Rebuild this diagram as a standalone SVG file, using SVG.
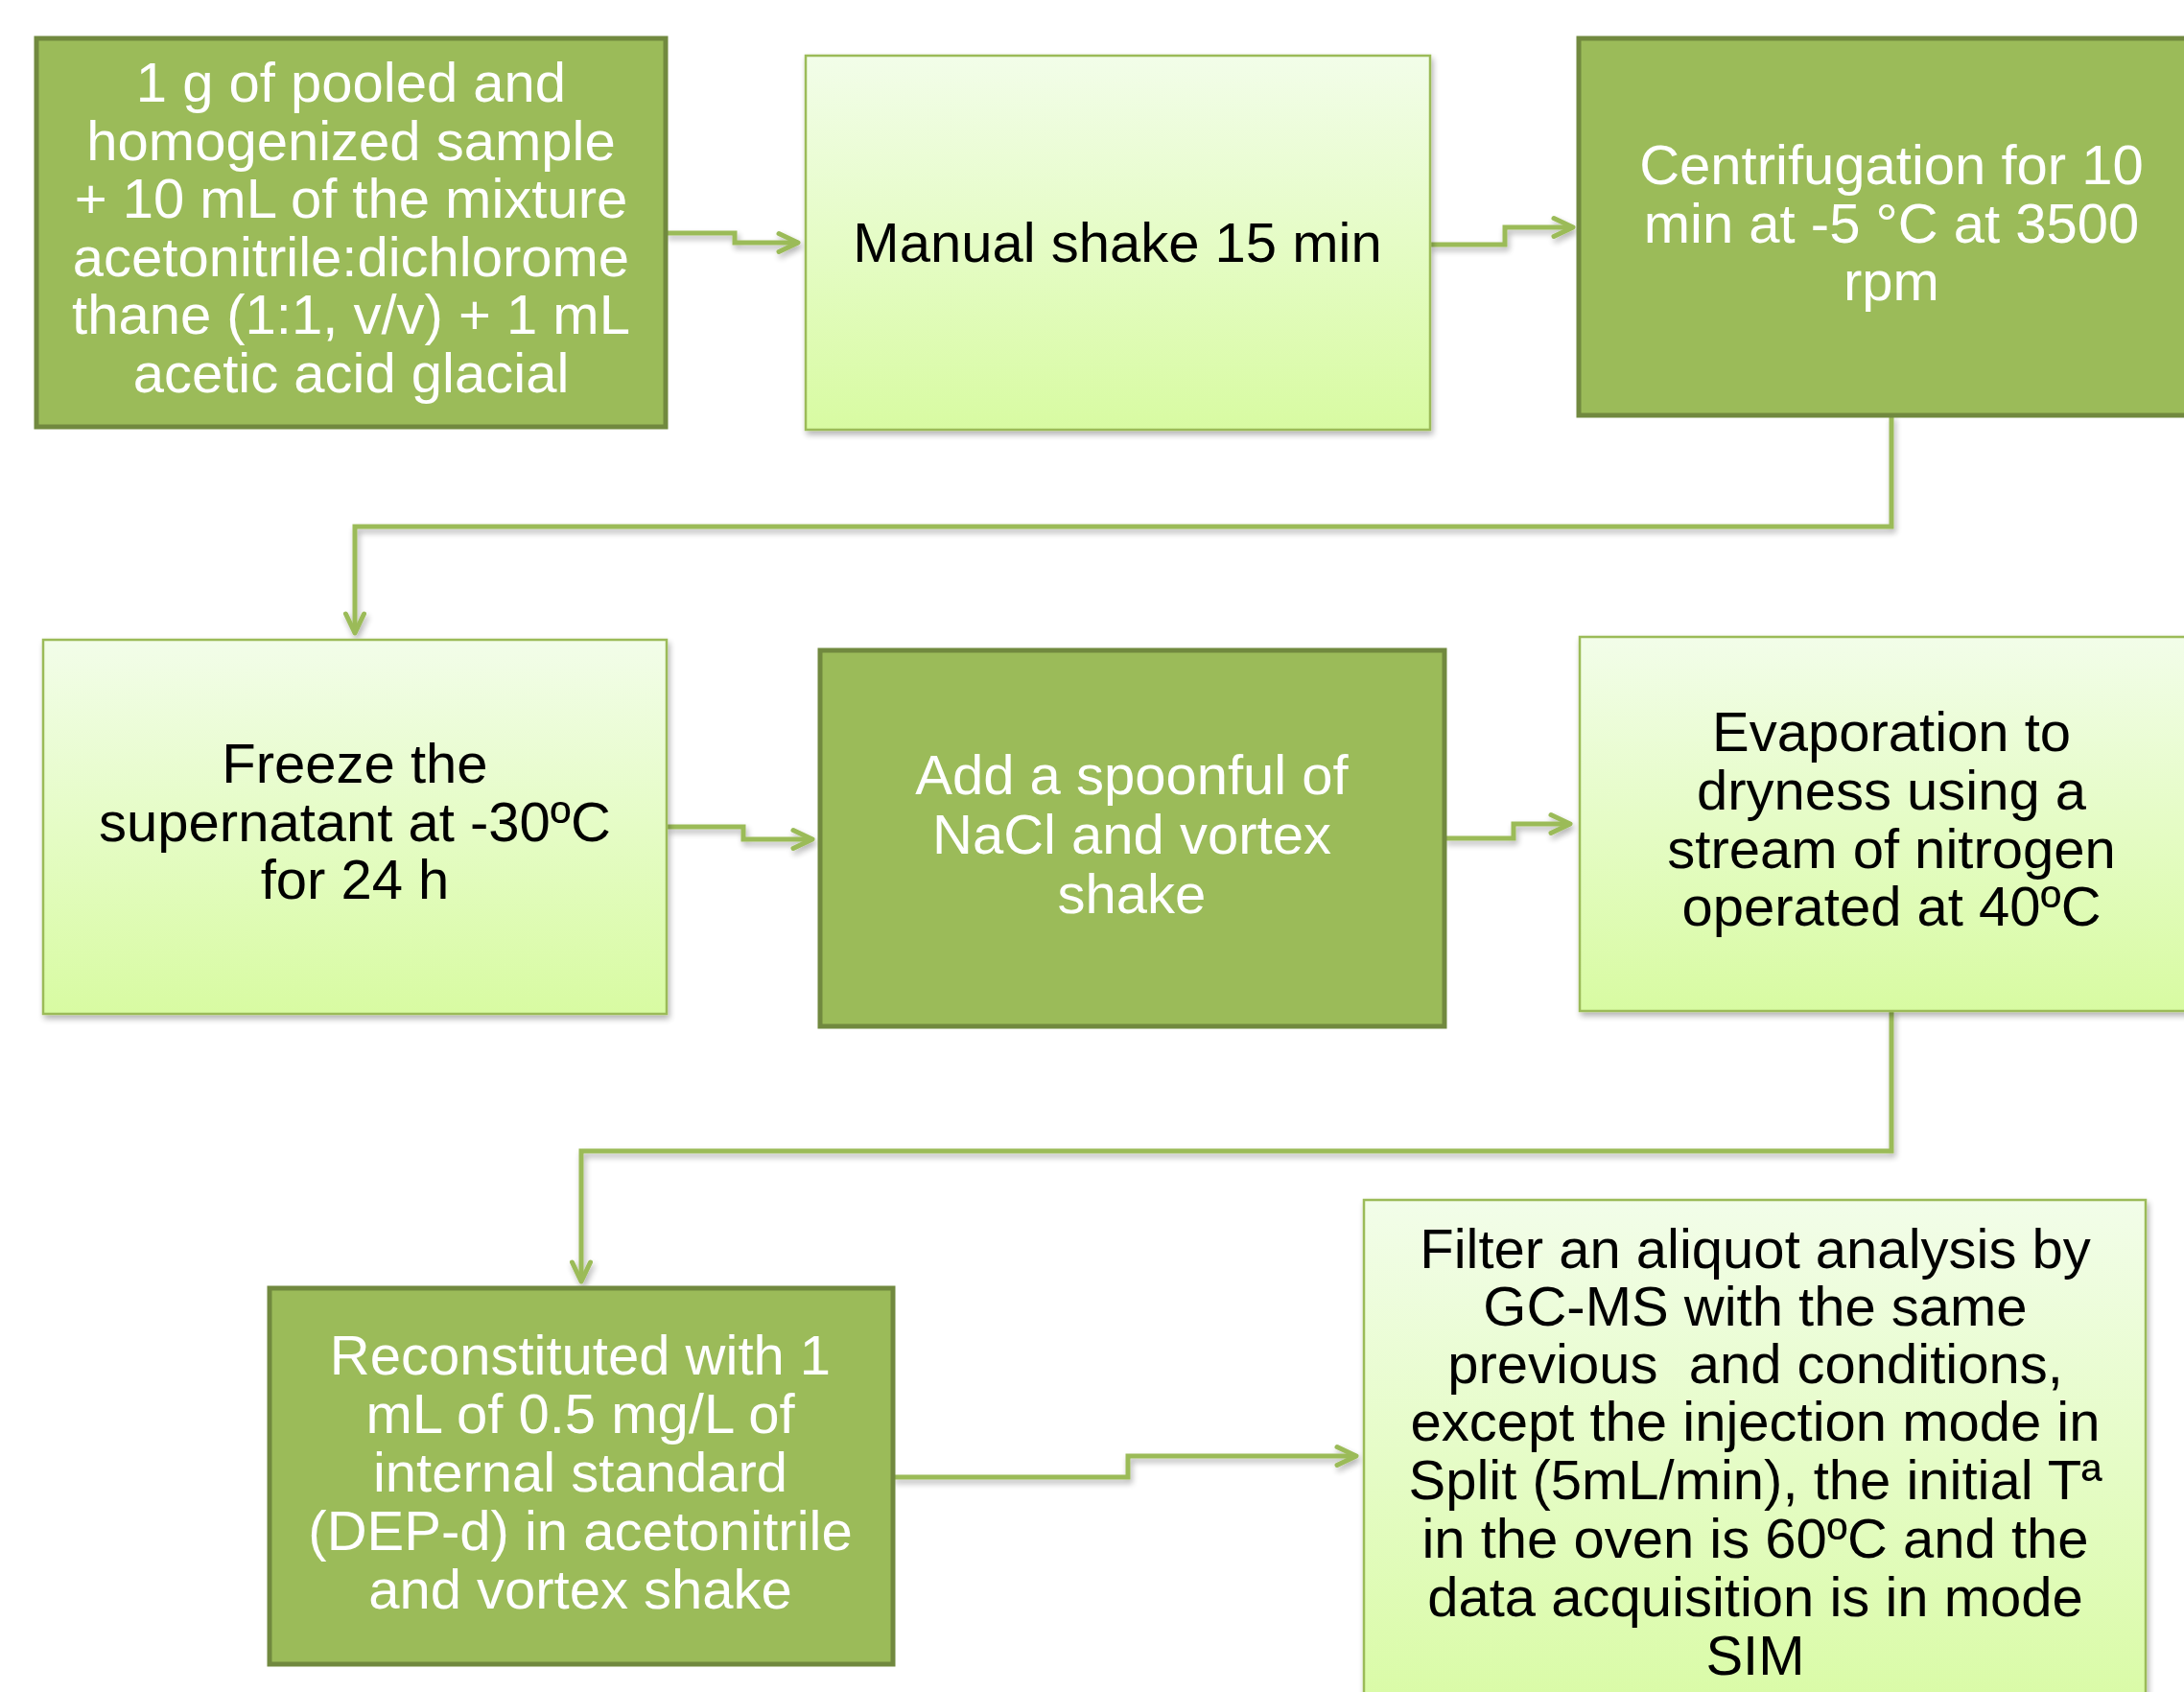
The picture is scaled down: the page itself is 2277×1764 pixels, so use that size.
<svg xmlns="http://www.w3.org/2000/svg" width="2277" height="1764" viewBox="0 0 2277 1764">
<style>
.dark{fill:#9BBB59;stroke:#71893F;stroke-width:5}
.light{fill:url(#lg);stroke:#9BBB59;stroke-width:2.5}
text{font-family:"Liberation Sans",Arial,sans-serif;font-size:58px;text-anchor:middle}
.w{fill:#FFFFFF}
.b{fill:#000000}
.conn{fill:none;stroke:#9BBB59;stroke-width:5;stroke-linejoin:miter}
</style>
<defs>
<linearGradient id="lg" x1="0" y1="0" x2="0" y2="1">
<stop offset="0" stop-color="#F2FDE9"/>
<stop offset="1" stop-color="#D8FBA2"/>
</linearGradient>
<filter id="sh" x="-5%" y="-5%" width="115%" height="115%">
<feGaussianBlur in="SourceAlpha" stdDeviation="3"/>
<feOffset dx="2" dy="4" result="o"/>
<feComponentTransfer><feFuncA type="linear" slope="0.3"/></feComponentTransfer>
<feMerge><feMergeNode/><feMergeNode in="SourceGraphic"/></feMerge>
</filter>
<marker id="ah" markerUnits="userSpaceOnUse" markerWidth="30" markerHeight="30" refX="24" refY="12" orient="auto" viewBox="0 0 30 24">
<path d="M4,2.5 L24,12 L4,21.5" fill="none" stroke="#9BBB59" stroke-width="5" stroke-linecap="round" stroke-linejoin="round"/>
</marker>
</defs>
<rect width="2277" height="1764" fill="#FFFFFF"/>

<g id="connectors" filter="url(#sh)">
<path class="conn" d="M694,243 H766 V253 H832" marker-end="url(#ah)"/>
<path class="conn" d="M1491,255 H1569 V237 H1640" marker-end="url(#ah)"/>
<path class="conn" d="M1972,433 V549 H370 V660" marker-end="url(#ah)"/>
<path class="conn" d="M695,862 H775 V875 H847" marker-end="url(#ah)"/>
<path class="conn" d="M1506,874 H1578 V859 H1637" marker-end="url(#ah)"/>
<path class="conn" d="M1972,1054 V1200 H606 V1336" marker-end="url(#ah)"/>
<path class="conn" d="M931,1540 H1176 V1518 H1414" marker-end="url(#ah)"/>
</g>

<g id="n1">
<rect class="dark" x="38" y="40" width="656" height="405"/>
<text class="w" x="366" y="106">1 g of pooled and</text>
<text class="w" x="366" y="166.5">homogenized sample</text>
<text class="w" x="366" y="227">+ 10 mL of the mixture</text>
<text class="w" x="366" y="287.5">acetonitrile:dichlorome</text>
<text class="w" x="366" y="348">thane (1:1, v/v) + 1 mL</text>
<text class="w" x="366" y="408.5">acetic acid glacial</text>
</g>

<g id="n2">
<rect class="light" x="840" y="58" width="651" height="390" filter="url(#sh)"/>
<text class="b" x="1165" y="273">Manual shake 15 min</text>
</g>

<g id="n3">
<rect class="dark" x="1646" y="40" width="652" height="393"/>
<text class="w" x="1972" y="192">Centrifugation for 10</text>
<text class="w" x="1972" y="252.5">min at -5 °C at 3500</text>
<text class="w" x="1972" y="313">rpm</text>
</g>

<g id="n4">
<rect class="light" x="45" y="667" width="650" height="390" filter="url(#sh)"/>
<text class="b" x="370" y="816">Freeze the</text>
<text class="b" x="370" y="876.5">supernatant at -30ºC</text>
<text class="b" x="370" y="937">for 24 h</text>
</g>

<g id="n5">
<rect class="dark" x="855" y="678" width="651" height="392"/>
<text class="w" x="1180" y="828">Add a spoonful of</text>
<text class="w" x="1180" y="890">NaCl and vortex</text>
<text class="w" x="1180" y="952">shake</text>
</g>

<g id="n6">
<rect class="light" x="1647" y="664" width="651" height="390" filter="url(#sh)"/>
<text class="b" x="1972" y="783">Evaporation to</text>
<text class="b" x="1972" y="844">dryness using a</text>
<text class="b" x="1972" y="904.5">stream of nitrogen</text>
<text class="b" x="1972" y="965">operated at 40ºC</text>
</g>

<g id="n7">
<rect class="dark" x="281" y="1343" width="650" height="392"/>
<text class="w" x="605" y="1433">Reconstituted with 1</text>
<text class="w" x="605" y="1494">mL of 0.5 mg/L of</text>
<text class="w" x="605" y="1555">internal standard</text>
<text class="w" x="605" y="1616">(DEP-d) in acetonitrile</text>
<text class="w" x="605" y="1677">and vortex shake</text>
</g>

<g id="n8">
<rect class="light" x="1422" y="1251" width="815" height="560" filter="url(#sh)"/>
<text class="b" x="1830" y="1322">Filter an aliquot analysis by</text>
<text class="b" x="1830" y="1382">GC-MS with the same</text>
<text class="b" x="1830" y="1442" xml:space="preserve">previous  and conditions,</text>
<text class="b" x="1830" y="1502">except the injection mode in</text>
<text class="b" x="1830" y="1563">Split (5mL/min), the initial Tª</text>
<text class="b" x="1830" y="1624">in the oven is 60ºC and the</text>
<text class="b" x="1830" y="1685">data acquisition is in mode</text>
<text class="b" x="1830" y="1746">SIM</text>
</g>
</svg>
